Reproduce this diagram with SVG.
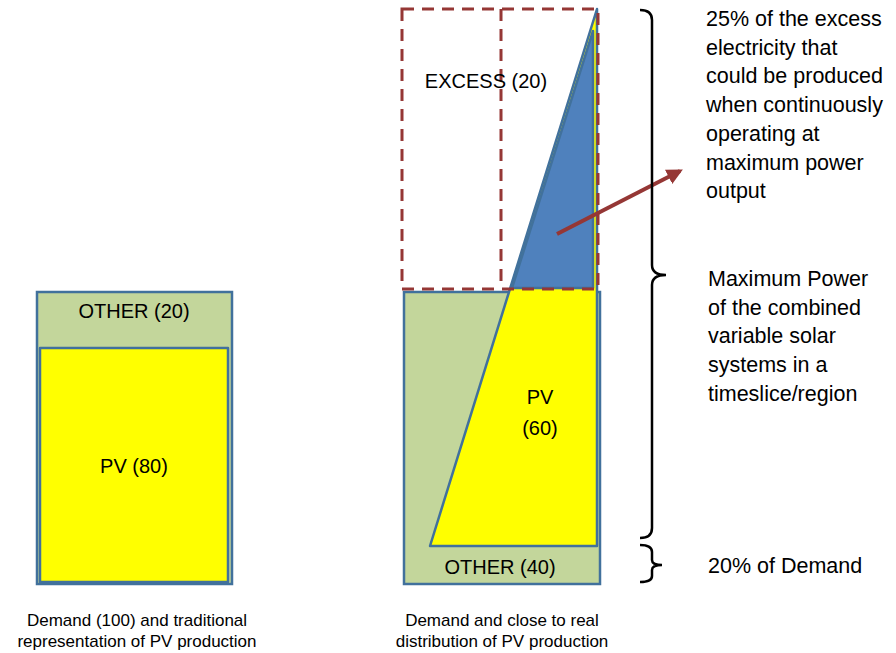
<svg xmlns="http://www.w3.org/2000/svg" width="896" height="653" viewBox="0 0 896 653">
<style>
text{font-family:"Liberation Sans",Arial,sans-serif;fill:#000}
.lbl{font-size:20px;text-anchor:middle}
.note{font-size:21.5px}
.cap{font-size:17px;text-anchor:middle}
.green{fill:#C3D69B;stroke:#41719C;stroke-width:2.5}
.yellow{fill:#FFFF00;stroke:#41719C;stroke-width:2.5;stroke-linejoin:round}
.blue{fill:#4F81BD;stroke:#41719C;stroke-width:2.5;stroke-linejoin:round}
.dash{fill:none;stroke:#953735;stroke-width:3;stroke-dasharray:12 8}
.brace{fill:none;stroke:#000;stroke-width:2.5}
</style>
<defs>
<marker id="ah" viewBox="0 0 10 10" refX="8" refY="5" markerWidth="4" markerHeight="4" orient="auto" markerUnits="strokeWidth">
<path d="M0,0 L10,5 L0,10 z" fill="#953735"/>
</marker>
</defs>
<rect width="896" height="653" fill="#fff"/>
<g id="left-demand">
<rect class="green" x="37" y="292" width="195" height="292"/>
<rect class="yellow" x="40" y="348" width="188" height="234"/>
<text class="lbl" x="134" y="318">OTHER (20)</text>
<text class="lbl" x="134" y="473">PV (80)</text>
</g>
<g id="right-demand">
<rect class="green" x="404" y="292" width="196" height="292"/>
<polygon class="yellow" points="430,546 597,9 597,546"/>
<polygon class="blue" points="512,288 593,31 593,288"/>
<text class="lbl" x="540" y="404">PV</text>
<text class="lbl" x="540" y="435">(60)</text>
<text class="lbl" x="500" y="574">OTHER (40)</text>
</g>
<g id="excess">
<rect class="dash" x="402" y="9" width="196" height="280"/>
<line class="dash" x1="501" y1="9" x2="501" y2="289"/>
<text class="lbl" x="486" y="88">EXCESS (20)</text>
</g>
<g id="connectors">
<line x1="557" y1="234" x2="680" y2="171" stroke="#953735" stroke-width="4" marker-end="url(#ah)"/>
<path class="brace" d="M640,10 Q652,10 652,20 L652,265 Q652,275 666,275 Q652,275 652,285 L652,528 Q652,538 640,538"/>
<path class="brace" d="M640,545 Q652,545 652,552 L652,560 Q652,565 662,565 Q652,565 652,570 L652,576 Q652,582 640,582"/>
</g>
<g id="notes">
<text class="note" x="706"><tspan x="706" y="26">25% of the excess</tspan><tspan x="706" y="55">electricity that</tspan><tspan x="706" y="83">could be produced</tspan><tspan x="706" y="112">when continuously</tspan><tspan x="706" y="141">operating at</tspan><tspan x="706" y="170">maximum power</tspan><tspan x="706" y="198">output</tspan></text>
<text class="note" x="708"><tspan x="708" y="286">Maximum Power</tspan><tspan x="708" y="315">of the combined</tspan><tspan x="708" y="343">variable solar</tspan><tspan x="708" y="372">systems in a</tspan><tspan x="708" y="401">timeslice/region</tspan></text>
<text class="note" x="708" y="573">20% of Demand</text>
</g>
<g id="captions">
<text class="cap" x="137" y="626">Demand (100) and traditional</text>
<text class="cap" x="137" y="647">representation of PV production</text>
<text class="cap" x="502" y="626">Demand and close to real</text>
<text class="cap" x="502" y="647">distribution of PV production</text>
</g>
</svg>
